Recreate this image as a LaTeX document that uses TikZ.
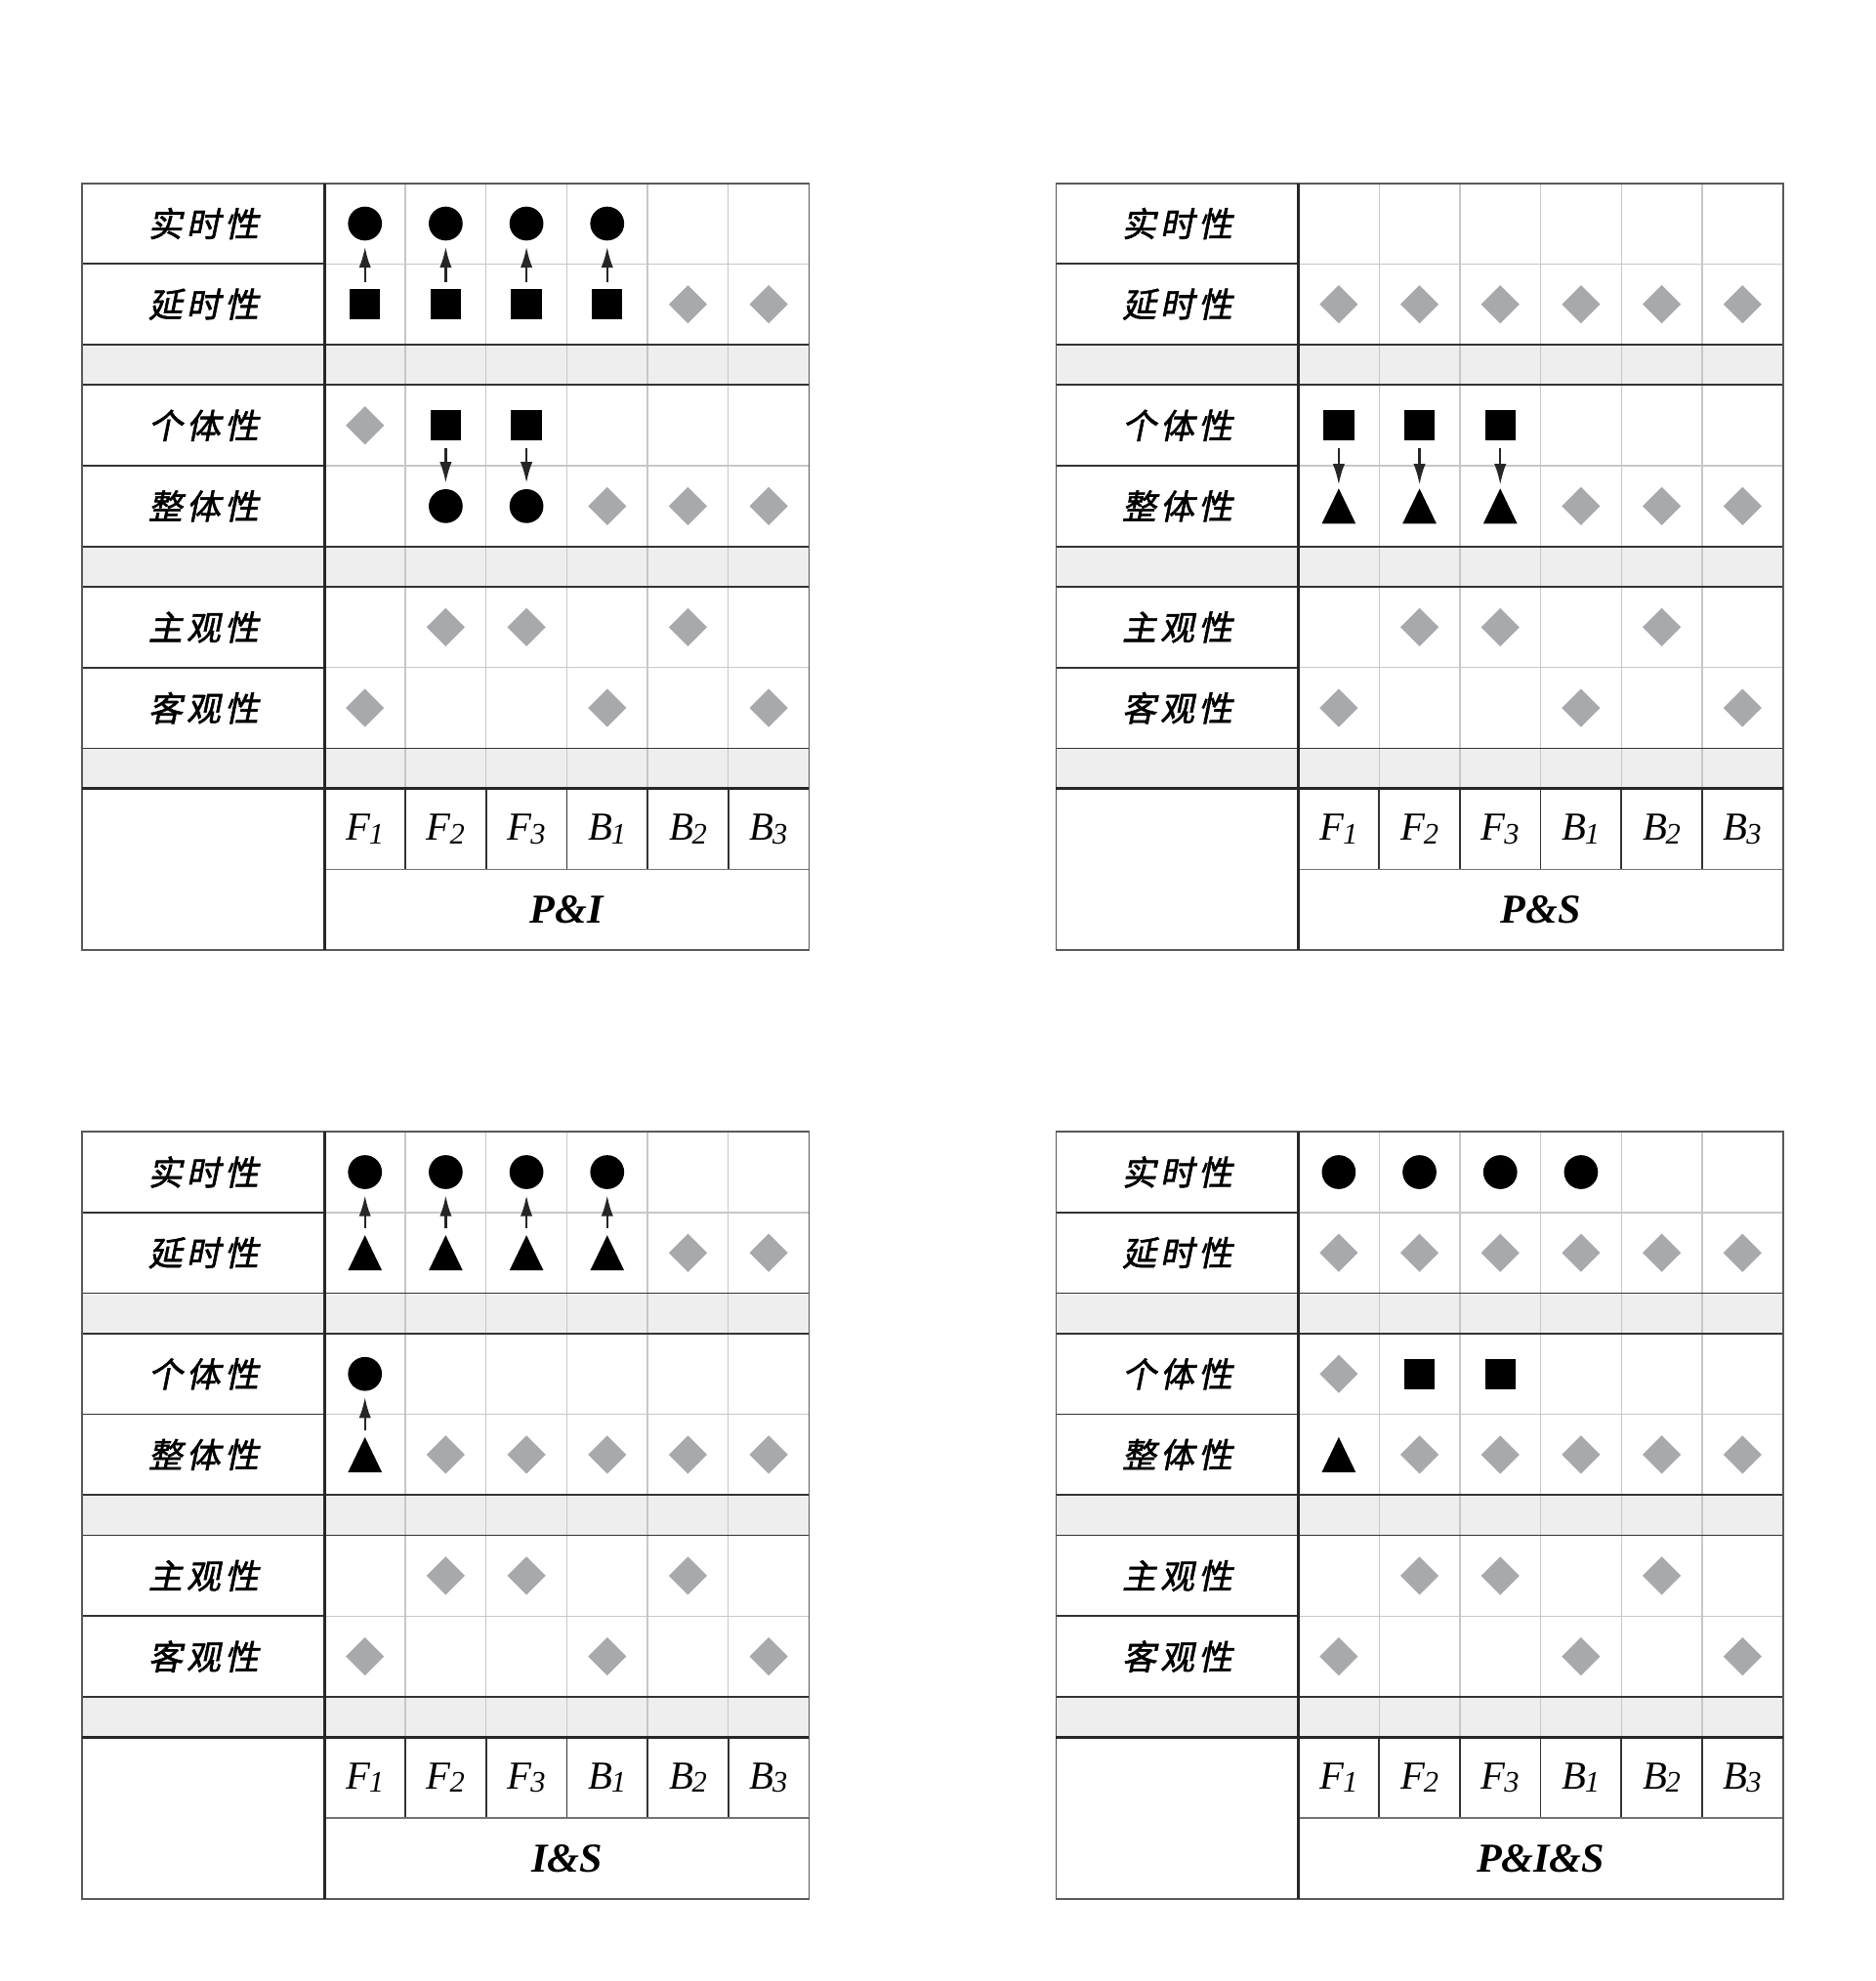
\documentclass[tikz,border=0pt]{standalone}
\usepackage{fontspec}
\setmainfont{Liberation Serif}
\newfontfamily\cjk[FakeSlant=0.2,FakeBold=1.6,LetterSpace=12]{Noto Sans CJK SC}
\usetikzlibrary{shapes.geometric,arrows.meta}

\definecolor{markgray}{HTML}{A7A9AC}
\definecolor{bandgray}{HTML}{EEEEEE}

\tikzset{
	rowlabel/.style = {font=\cjk\fontsize{12}{14}\selectfont, inner sep=0pt},
	colname/.style = {font=\fontsize{14}{16}\selectfont, inner sep=0pt},
	panelname/.style = {font=\fontsize{14.5}{16}\selectfont\bfseries\itshape, inner sep=0pt},
	thinline/.style = {black!22, line width=0.45pt},
	darkline/.style = {black!80, line width=0.6pt},
	heavyline/.style = {black!85, line width=1.1pt},
}

% one column head, e.g. F_1
\newcommand\colhead[2]{\textit{#1}\kern-0.5pt\raisebox{-1.2pt}{\fontsize{10.5}{12}\selectfont\textit{#2}}}

% empty table of one panel: #1 = name prefix, #2 = panel name
\newcommand\paneltable[2]{
	% grey bands
	\fill[bandgray] (0,-2) rectangle (9,-2.5);
	\fill[bandgray] (0,-4.5) rectangle (9,-5);
	\fill[bandgray] (0,-7) rectangle (9,-7.5);

	% light grid in the data part
	\foreach \x in {4,...,8} \draw[thinline] (\x,0) -- (\x,-7.5);
	\foreach \y in {-1,-3.5,-6} \draw[thinline] (3,\y) -- (9,\y);

	% dark rules
	\foreach \y in {-2,-2.5,-4.5,-5,-7} \draw[darkline] (0,\y) -- (9,\y);
	\foreach \y in {-1,-3.5,-6} \draw[darkline] (0,\y) -- (3,\y);
	\foreach \x in {4,...,8} \draw[darkline] (\x,-7.5) -- (\x,-8.5);
	\draw[darkline, black!55] (3,-8.5) -- (9,-8.5);
	\draw[darkline, black!65] (0,0) rectangle (9,-9.5);
	\draw[heavyline] (0,-7.5) -- (9,-7.5);
	\draw[heavyline] (3,0) -- (3,-9.5);

	% row labels
	\node[rowlabel] (#1-l1) at (1.5,-0.5) {实时性};
	\node[rowlabel] (#1-l2) at (1.5,-1.5) {延时性};
	\node[rowlabel] (#1-l3) at (1.5,-3) {个体性};
	\node[rowlabel] (#1-l4) at (1.5,-4) {整体性};
	\node[rowlabel] (#1-l5) at (1.5,-5.5) {主观性};
	\node[rowlabel] (#1-l6) at (1.5,-6.5) {客观性};

	% column heads
	\node[colname] (#1-h1) at (3.5,-8) {\colhead{F}{1}};
	\node[colname] (#1-h2) at (4.5,-8) {\colhead{F}{2}};
	\node[colname] (#1-h3) at (5.5,-8) {\colhead{F}{3}};
	\node[colname] (#1-h4) at (6.5,-8) {\colhead{B}{1}};
	\node[colname] (#1-h5) at (7.5,-8) {\colhead{B}{2}};
	\node[colname] (#1-h6) at (8.5,-8) {\colhead{B}{3}};
	\node[panelname] (#1-name) at (6,-9) {#2};
}

\begin{document}
\begin{tikzpicture}[
		roundmark/.style = {circle, fill=black, minimum size=0.42cm, inner sep=0pt},
		sqmark/.style = {rectangle, fill=black, minimum size=0.38cm, inner sep=0pt},
		trimark/.style = {rectangle, minimum width=0.42cm, minimum height=0.435cm, inner sep=0pt,
			path picture={\fill[black] (path picture bounding box.south west) -- (path picture bounding box.south east) -- (path picture bounding box.north) -- cycle;}},
		gemmark/.style = {diamond, fill=markgray, minimum width=0.48cm, minimum height=0.48cm, inner sep=0pt},
		link/.style = {-{Latex[length=0.26cm, width=0.15cm]}, black!85, line width=0.8pt, shorten <=0.08cm, shorten >=0.07cm},
	]

	\useasboundingbox (0,0) rectangle (23.23,24.54);

	% P&I
	\begin{scope}[shift={(1.02,22.27)}]
		\paneltable{pi}{P\&I}
		\node[roundmark] (pi-a1) at (3.5,-0.5) {};
		\node[roundmark] (pi-a2) at (4.5,-0.5) {};
		\node[roundmark] (pi-a3) at (5.5,-0.5) {};
		\node[roundmark] (pi-a4) at (6.5,-0.5) {};
		\node[sqmark] (pi-b1) at (3.5,-1.5) {};
		\node[sqmark] (pi-b2) at (4.5,-1.5) {};
		\node[sqmark] (pi-b3) at (5.5,-1.5) {};
		\node[sqmark] (pi-b4) at (6.5,-1.5) {};
		\node[sqmark] (pi-c2) at (4.5,-3) {};
		\node[sqmark] (pi-c3) at (5.5,-3) {};
		\node[roundmark] (pi-d2) at (4.5,-4) {};
		\node[roundmark] (pi-d3) at (5.5,-4) {};
		\foreach \x/\y [count=\k] in {7.5/-1.5, 8.5/-1.5, 3.5/-3, 6.5/-4, 7.5/-4, 8.5/-4,
				4.5/-5.5, 5.5/-5.5, 7.5/-5.5, 3.5/-6.5, 6.5/-6.5, 8.5/-6.5}
			\node[gemmark] (pi-g\k) at (\x,\y) {};
		\draw[link] (pi-b1) -- (pi-a1);
		\draw[link] (pi-b2) -- (pi-a2);
		\draw[link] (pi-b3) -- (pi-a3);
		\draw[link] (pi-b4) -- (pi-a4);
		\draw[link] (pi-c2) -- (pi-d2);
		\draw[link] (pi-c3) -- (pi-d3);
	\end{scope}

	% P&S
	\begin{scope}[shift={(13.08,22.27)}]
		\paneltable{ps}{P\&S}
		\node[sqmark] (ps-c1) at (3.5,-3) {};
		\node[sqmark] (ps-c2) at (4.5,-3) {};
		\node[sqmark] (ps-c3) at (5.5,-3) {};
		\node[trimark] (ps-d1) at (3.5,-4) {};
		\node[trimark] (ps-d2) at (4.5,-4) {};
		\node[trimark] (ps-d3) at (5.5,-4) {};
		\foreach \x/\y [count=\k] in {3.5/-1.5, 4.5/-1.5, 5.5/-1.5, 6.5/-1.5, 7.5/-1.5, 8.5/-1.5,
				6.5/-4, 7.5/-4, 8.5/-4,
				4.5/-5.5, 5.5/-5.5, 7.5/-5.5, 3.5/-6.5, 6.5/-6.5, 8.5/-6.5}
			\node[gemmark] (ps-g\k) at (\x,\y) {};
		\draw[link, shorten >=0.04cm] (ps-c1) -- (ps-d1);
		\draw[link, shorten >=0.04cm] (ps-c2) -- (ps-d2);
		\draw[link, shorten >=0.04cm] (ps-c3) -- (ps-d3);
	\end{scope}

	% I&S
	\begin{scope}[shift={(1.02,10.52)}]
		\paneltable{is}{I\&S}
		\node[roundmark] (is-a1) at (3.5,-0.5) {};
		\node[roundmark] (is-a2) at (4.5,-0.5) {};
		\node[roundmark] (is-a3) at (5.5,-0.5) {};
		\node[roundmark] (is-a4) at (6.5,-0.5) {};
		\node[trimark] (is-b1) at (3.5,-1.5) {};
		\node[trimark] (is-b2) at (4.5,-1.5) {};
		\node[trimark] (is-b3) at (5.5,-1.5) {};
		\node[trimark] (is-b4) at (6.5,-1.5) {};
		\node[roundmark] (is-c1) at (3.5,-3) {};
		\node[trimark] (is-d1) at (3.5,-4) {};
		\foreach \x/\y [count=\k] in {7.5/-1.5, 8.5/-1.5,
				4.5/-4, 5.5/-4, 6.5/-4, 7.5/-4, 8.5/-4,
				4.5/-5.5, 5.5/-5.5, 7.5/-5.5, 3.5/-6.5, 6.5/-6.5, 8.5/-6.5}
			\node[gemmark] (is-g\k) at (\x,\y) {};
		\draw[link] (is-b1) -- (is-a1);
		\draw[link] (is-b2) -- (is-a2);
		\draw[link] (is-b3) -- (is-a3);
		\draw[link] (is-b4) -- (is-a4);
		\draw[link] (is-d1) -- (is-c1);
	\end{scope}

	% P&I&S
	\begin{scope}[shift={(13.08,10.52)}]
		\paneltable{pis}{P\&I\&S}
		\node[roundmark] (pis-a1) at (3.5,-0.5) {};
		\node[roundmark] (pis-a2) at (4.5,-0.5) {};
		\node[roundmark] (pis-a3) at (5.5,-0.5) {};
		\node[roundmark] (pis-a4) at (6.5,-0.5) {};
		\node[sqmark] (pis-c2) at (4.5,-3) {};
		\node[sqmark] (pis-c3) at (5.5,-3) {};
		\node[trimark] (pis-d1) at (3.5,-4) {};
		\foreach \x/\y [count=\k] in {3.5/-1.5, 4.5/-1.5, 5.5/-1.5, 6.5/-1.5, 7.5/-1.5, 8.5/-1.5,
				3.5/-3, 4.5/-4, 5.5/-4, 6.5/-4, 7.5/-4, 8.5/-4,
				4.5/-5.5, 5.5/-5.5, 7.5/-5.5, 3.5/-6.5, 6.5/-6.5, 8.5/-6.5}
			\node[gemmark] (pis-g\k) at (\x,\y) {};
	\end{scope}
\end{tikzpicture}
\end{document}
